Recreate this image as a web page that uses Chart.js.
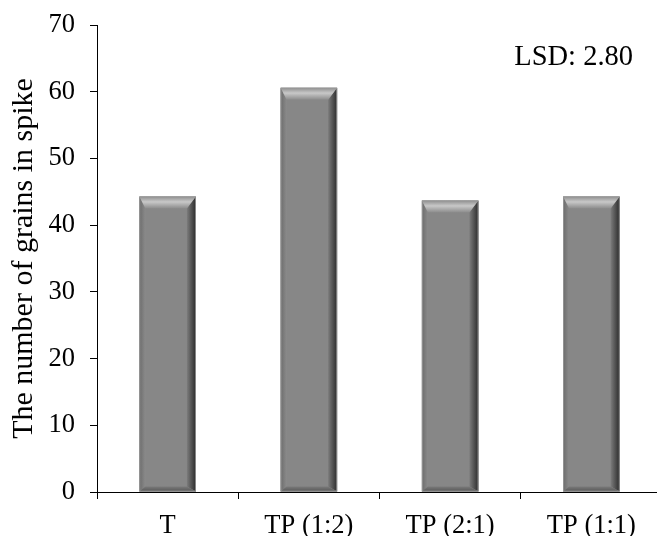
<!DOCTYPE html>
<html>
<head>
<meta charset="utf-8">
<script src="https://cdn.jsdelivr.net/npm/chart.js@4/dist/chart.umd.min.js"></script>
<style>
  html, body { margin: 0; padding: 0; background: #fff; overflow: hidden; }
  #wrap { width: 663px; height: 536px; }
</style>
</head>
<body>
<div id="wrap"><canvas id="grainChart" width="663" height="536"></canvas></div>
<script>
const categories = ["T", "TP (1:2)", "TP (2:1)", "TP (1:1)"];
const grains = [44.3, 60.6, 43.7, 44.3];
const yMin = 0;
const yMax = 70;
const yStep = 10;
const yTitle = "The number of grains in spike";
const lsdLabel = "LSD: 2.80";

const serif = "'Liberation Serif', 'Times New Roman', serif";

// bevel look on top of each bar, using the bar's own geometry
const bevelPlugin = {
    id: "bevel",
    afterDatasetsDraw(chart) {
        const ctx = chart.ctx;
        chart.getDatasetMeta(0).data.forEach(bar => {
            const p = bar.getProps(["x", "y", "base", "width"], true);
            const l = p.x - p.width / 2, r = p.x + p.width / 2;
            const t = p.y, b = p.base;
            const bl = 6, br = 9, bt = 12, bb = 5;

            function poly(pts, fill) {
                ctx.beginPath();
                ctx.moveTo(pts[0][0], pts[0][1]);
                for (let i = 1; i < pts.length; i++) ctx.lineTo(pts[i][0], pts[i][1]);
                ctx.closePath();
                ctx.fillStyle = fill;
                ctx.fill();
            }

            ctx.save();

            let g = ctx.createLinearGradient(l, 0, l + bl, 0);
            g.addColorStop(0, "#6c6c6c");
            g.addColorStop(1, "#8a8a8a");
            poly([[l, t], [l + bl, t + bt], [l + bl, b - bb], [l, b]], g);

            g = ctx.createLinearGradient(r - br, 0, r, 0);
            g.addColorStop(0, "#7c7c7c");
            g.addColorStop(1, "#2c2c2c");
            poly([[r, t], [r, b], [r - br, b - bb], [r - br, t + bt]], g);

            g = ctx.createLinearGradient(0, b - bb, 0, b);
            g.addColorStop(0, "#7a7a7a");
            g.addColorStop(1, "#575757");
            poly([[l, b], [r, b], [r - br, b - bb], [l + bl, b - bb]], g);

            g = ctx.createLinearGradient(0, t, 0, t + bt);
            g.addColorStop(0, "#8e8e8e");
            g.addColorStop(0.45, "#c8c8c8");
            g.addColorStop(1, "#8c8c8c");
            poly([[l, t], [r, t], [r - br, t + bt], [l + bl, t + bt]], g);

            ctx.strokeStyle = "#9a9a9a";
            ctx.lineWidth = 0.8;
            ctx.strokeRect(l + 0.4, t + 0.4, p.width - 0.8, b - t - 0.8);
            ctx.restore();
        });
    }
};

const lsdPlugin = {
    id: "lsd",
    afterDraw(chart) {
        const ctx = chart.ctx;
        const y = chart.scales.y.getPixelForValue(65.1);
        ctx.save();
        ctx.font = "28.5px " + serif;
        ctx.fillStyle = "#000";
        ctx.textAlign = "right";
        ctx.textBaseline = "middle";
        ctx.fillText(lsdLabel, chart.chartArea.right - 29, y);
        ctx.restore();
    }
};

const ctx = document.getElementById("grainChart").getContext("2d");

new Chart(ctx, {
    type: "bar",
    data: {
        labels: categories,
        datasets: [{
            data: grains,
            backgroundColor: "#878787",
            borderWidth: 0,
            barPercentage: 0.4,
            categoryPercentage: 1
        }]
    },
    options: {
        responsive: false,
        animation: false,
        layout: { padding: { top: 25, right: 1, left: 0, bottom: 0 } },
        plugins: {
            legend: { display: false },
            tooltip: { enabled: false }
        },
        scales: {
            x: {
                offset: true,
                afterFit: scale => {
                    scale.height = 44;
                    scale.paddingLeft = 0;
                    scale.paddingRight = 0;
                },
                grid: {
                    offset: true,
                    drawOnChartArea: false,
                    drawTicks: true,
                    tickLength: 7,
                    color: "#000"
                },
                border: { display: true, color: "#000", width: 1 },
                ticks: {
                    color: "#000",
                    font: { family: serif, size: 26.5 },
                    padding: 11,
                    maxRotation: 0
                }
            },
            y: {
                min: yMin,
                max: yMax,
                afterFit: scale => {
                    scale.width = 97;
                    scale.paddingTop = 0;
                    scale.paddingBottom = 0;
                },
                grid: {
                    drawOnChartArea: false,
                    drawTicks: true,
                    tickLength: 7,
                    color: "#000"
                },
                border: { display: true, color: "#000", width: 1 },
                ticks: {
                    stepSize: yStep,
                    color: "#000",
                    font: { family: serif, size: 26.5 },
                    padding: 15
                },
                title: {
                    display: true,
                    text: yTitle,
                    color: "#000",
                    font: { family: serif, size: 30 },
                    padding: { top: 6, bottom: 0 }
                }
            }
        }
    },
    plugins: [bevelPlugin, lsdPlugin]
});
</script>
</body>
</html>
